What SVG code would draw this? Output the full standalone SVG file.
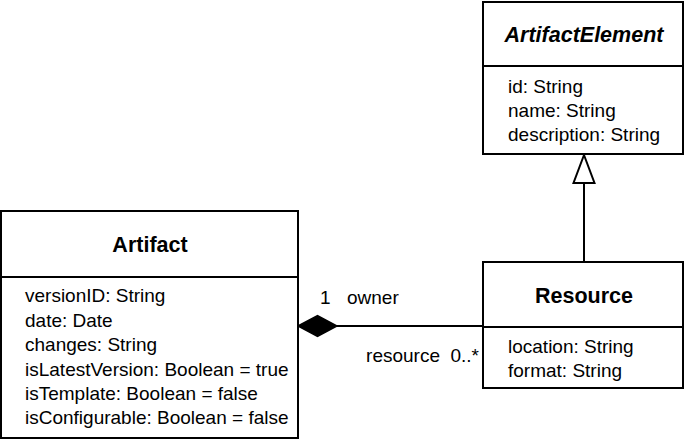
<svg xmlns="http://www.w3.org/2000/svg" width="685" height="441" viewBox="0 0 685 441">
<style>
.box{fill:#fff;stroke:#000;stroke-width:2}
.ln{stroke:#000;stroke-width:2;fill:none}
text{font-family:"Liberation Sans",Arial,sans-serif;font-size:19px;fill:#000}
.t{font-weight:bold;font-size:21.5px;text-anchor:middle}
.ti{font-weight:bold;font-style:italic;font-size:21.5px;text-anchor:middle}
</style>
<rect width="685" height="441" fill="#fff"/>
<g id="connectors">
<line class="ln" x1="337" y1="326" x2="483" y2="326"/>
<polygon points="298,326 317.5,315.5 337,326 317.5,336.5" fill="#000" stroke="#000" stroke-width="1.5"/>
<line class="ln" x1="584" y1="183" x2="584" y2="262"/>
<polygon points="584,155 594.5,183 573.5,183" fill="#fff" stroke="#000" stroke-width="2"/>
<text x="320" y="304">1</text>
<text x="347" y="304">owner</text>
<text x="440" y="362" text-anchor="end">resource</text>
<text x="479" y="362" text-anchor="end">0..*</text>
</g>
<g id="ArtifactElement">
<rect class="box" x="483" y="2" width="200" height="152"/>
<line class="ln" x1="483" y1="66" x2="683" y2="66"/>
<text class="ti" x="584" y="42">ArtifactElement</text>
<text x="508" y="93">id: String</text>
<text x="508" y="117">name: String</text>
<text x="508" y="141">description: String</text>
</g>
<g id="Artifact">
<rect class="box" x="1" y="211" width="297" height="227"/>
<line class="ln" x1="1" y1="277" x2="298" y2="277"/>
<text class="t" x="150" y="252">Artifact</text>
<text x="25" y="302">versionID: String</text>
<text x="25" y="327">date: Date</text>
<text x="25" y="351">changes: String</text>
<text x="25" y="376">isLatestVersion: Boolean = true</text>
<text x="25" y="400">isTemplate: Boolean = false</text>
<text x="25" y="424">isConfigurable: Boolean = false</text>
</g>
<g id="Resource">
<rect class="box" x="483" y="262" width="200" height="126"/>
<line class="ln" x1="483" y1="327" x2="683" y2="327"/>
<text class="t" x="584" y="303">Resource</text>
<text x="508" y="353">location: String</text>
<text x="508" y="377">format: String</text>
</g>
</svg>
